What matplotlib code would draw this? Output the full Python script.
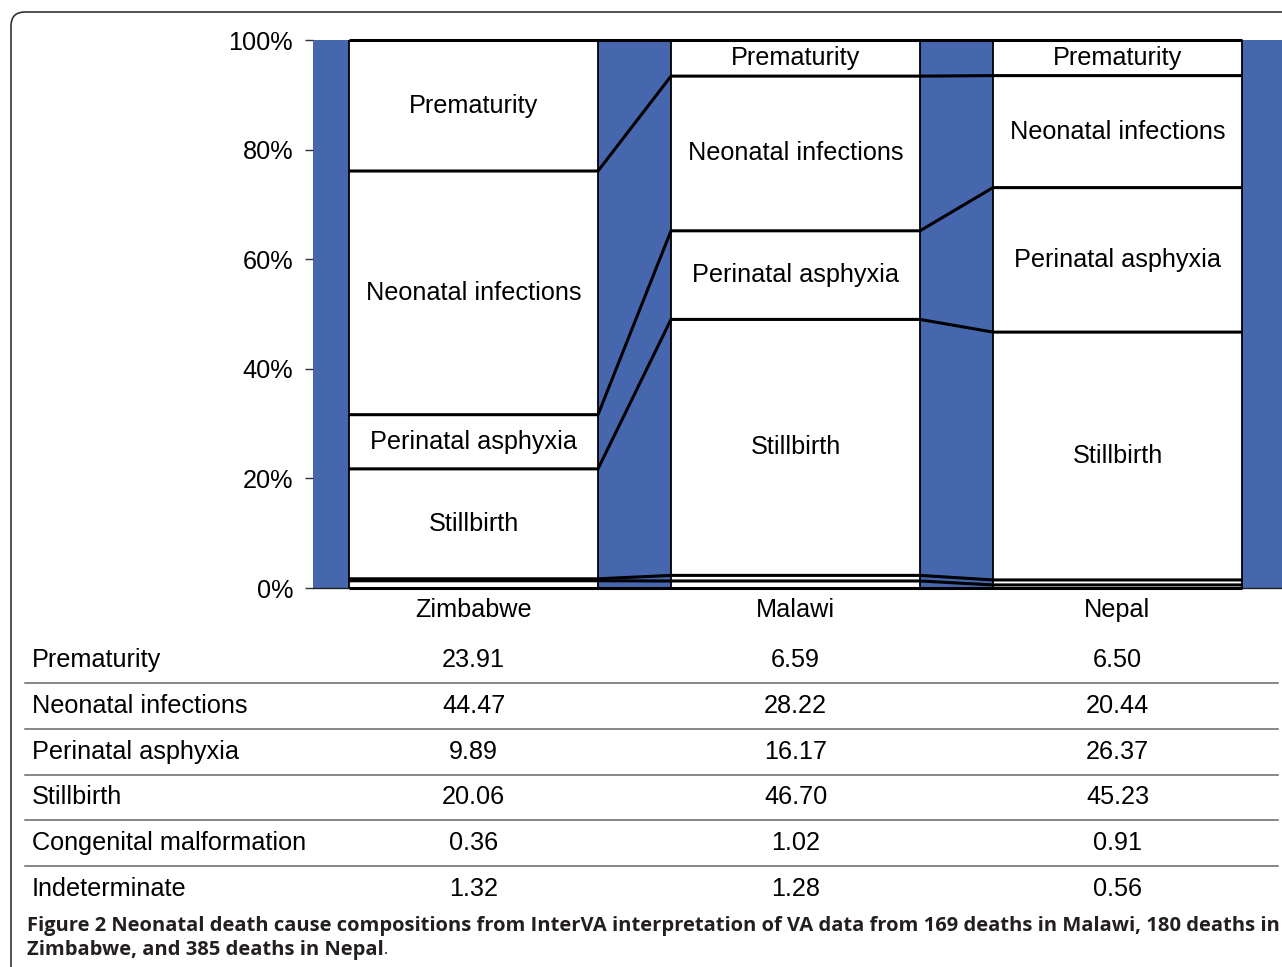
import matplotlib
matplotlib.use('Agg')
import matplotlib.pyplot as plt
from matplotlib.patches import FancyBboxPatch
from matplotlib.lines import Line2D
import matplotlib.transforms as mtransforms
import numpy as np

# ---------------- data ----------------
countries = ['Zimbabwe', 'Malawi', 'Nepal']
causes = ['Prematurity', 'Neonatal infections', 'Perinatal asphyxia',
          'Stillbirth', 'Congenital malformation', 'Indeterminate']
prematurity = [23.91, 6.59, 6.50]
neonatal_infections = [44.47, 28.22, 20.44]
perinatal_asphyxia = [9.89, 16.17, 26.37]
stillbirth = [20.06, 46.70, 45.23]
congenital_malformation = [0.36, 1.02, 0.91]
indeterminate = [1.32, 1.28, 0.56]
yticks = [0, 20, 40, 60, 80, 100]
ytick_labels = ['0%', '20%', '40%', '60%', '80%', '100%']
labelled_causes = ['Prematurity', 'Neonatal infections', 'Perinatal asphyxia', 'Stillbirth']
caption_bold_1 = ('Figure 2 Neonatal death cause compositions from InterVA interpretation '
                  'of VA data from 169 deaths in Malawi, 180 deaths in')
caption_bold_2 = 'Zimbabwe, and 385 deaths in Nepal'

table_values = [prematurity, neonatal_infections, perinatal_asphyxia,
                stillbirth, congenital_malformation, indeterminate]

# ---------------- layout ----------------
W, H = 1282, 967
BLUE = '#4666AE'
FS = 18.2
FONT = 'Liberation Sans'
plt.rcParams['font.family'] = [FONT, 'DejaVu Sans']

fig = plt.figure(figsize=(W / 100, H / 100), dpi=100)
fig.patch.set_facecolor('white')

ax = fig.add_axes([313 / W, 1 - 588 / H, 969 / W, 548 / H])
ax.set_facecolor(BLUE)

x = np.arange(len(countries))
w = 249 / 322
# stacking from bottom
stack_series = [indeterminate, congenital_malformation, stillbirth,
                perinatal_asphyxia, neonatal_infections, prematurity]
stack_names = ['Indeterminate', 'Congenital malformation', 'Stillbirth',
               'Perinatal asphyxia', 'Neonatal infections', 'Prematurity']
arr = np.array(stack_series, dtype=float)
arr = arr / arr.sum(axis=0) * 100.0
cum = np.vstack([np.zeros(arr.shape[1]), np.cumsum(arr, axis=0)])

for i, name in enumerate(stack_names):
    ax.bar(x, arr[i], width=w, bottom=cum[i], color='white',
           edgecolor='black', linewidth=1.3, zorder=2)
    if name in labelled_causes:
        for j in range(len(x)):
            ax.text(x[j], cum[i][j] + arr[i][j] / 2, name, ha='center',
                    va='center', fontsize=FS, color='black', zorder=4)

# boundary lines continuous across bars and gaps
for k in range(cum.shape[0]):
    xs, ys = [], []
    for j in range(len(x)):
        xs += [x[j] - w / 2, x[j] + w / 2]
        ys += [cum[k][j], cum[k][j]]
    ax.plot(xs, ys, color='black', lw=2.2, solid_capstyle='butt',
            zorder=3, clip_on=False)

ax.set_xlim(-0.3867 - 36 / 322, 2.3867 + 40 / 322)
ax.set_ylim(0, 100)
ax.set_yticks(yticks)
ax.set_yticklabels(ytick_labels)
ax.set_xticks(x)
ax.set_xticklabels(countries)
for s in ['left', 'top', 'right']:
    ax.spines[s].set_visible(False)
ax.spines['bottom'].set_color('#222222')
ax.spines['bottom'].set_linewidth(1.0)
ax.tick_params(axis='y', length=5.8, width=1.0, color='#333333', pad=8.5,
               labelsize=FS)
ax.tick_params(axis='x', length=0, pad=7, labelsize=FS)

# ---------------- table ----------------
blend = mtransforms.blended_transform_factory(ax.transData, fig.transFigure)
row_y = [660, 706, 752, 797, 843, 889]
sep_y = [683, 729, 775, 820, 866]
for r, (cause, vals) in enumerate(zip(causes, table_values)):
    yy = 1 - row_y[r] / H
    fig.text(32 / W, yy, cause, ha='left', va='center', fontsize=FS)
    for j in range(len(x)):
        ax.text(x[j], yy, f'{vals[j]:.2f}', transform=blend, ha='center',
                va='center', fontsize=FS, clip_on=False)
for sy in sep_y:
    fig.add_artist(Line2D([25 / W, 1278 / W], [1 - sy / H, 1 - sy / H],
                          color='#666666', lw=1.1))

# ---------------- frame ----------------
frame = FancyBboxPatch((11, -60), 1400, (H - 12) + 60,
                       boxstyle='round,pad=0,rounding_size=14',
                       transform=mtransforms.IdentityTransform(),
                       fill=False, edgecolor='#333333', lw=1.2)
fig.add_artist(frame)

# ---------------- caption ----------------
cap_font = ['Open Sans', 'DejaVu Sans']
renderer = fig.canvas.get_renderer()
cap_x = 27
t1 = fig.text(cap_x / W, 1 - 926 / H, caption_bold_1, ha='left', va='center',
              fontsize=12, fontweight='bold', family=cap_font, color='#231F20')
bb = t1.get_window_extent(renderer)
cfs = 12 * ((1278 - cap_x) / bb.width)
t1.set_fontsize(cfs)
t2 = fig.text(cap_x / W, 1 - 950 / H, caption_bold_2, ha='left', va='center',
              fontsize=cfs, fontweight='bold', family=cap_font, color='#231F20')
bb2 = t2.get_window_extent(renderer)
fig.text(bb2.x1 / W, 1 - 950 / H, '.', ha='left', va='center',
         fontsize=cfs * 0.8, family=cap_font, color='#231F20')

fig.savefig('out.png', dpi=100)
